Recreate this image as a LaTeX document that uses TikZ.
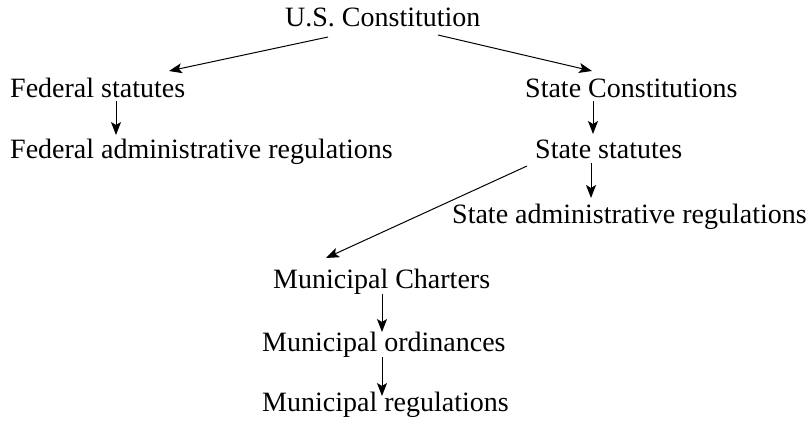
\documentclass[tikz,border=0pt]{standalone}
\usepackage{fontspec}
\setmainfont{Liberation Serif}
\usetikzlibrary{arrows.meta,calc}
\begin{document}
\begin{tikzpicture}[x=1pt,y=-1pt,
  lbl/.style={anchor=base west,inner sep=0pt,font=\fontsize{28}{33}\selectfont},
  arr/.style={-{Stealth[length=13pt,width=10pt,inset=3pt]},line width=1pt}]
\useasboundingbox (0,0) rectangle (808,422);
\node[lbl] (us) at (285,27) {U.S. Constitution};
\node[lbl] (fs) at (10,98) {Federal statutes};
\node[lbl] (sc) at (525,98) {State Constitutions};
\node[lbl] (fa) at (10,159) {Federal administrative regulations};
\node[lbl] (ss) at (535,159) {State statutes};
\node[lbl] (sa) at (452,223) {State administrative regulations};
\node[lbl] (mc) at (273,288) {Municipal Charters};
\node[lbl] (mo) at (262,351) {Municipal ordinances};
\node[lbl] (mr) at (262,411) {Municipal regulations};
\draw[arr] ($(us.base west)+(43,10)$) -- ($(fs.base west)+(159,-27)$);
\draw[arr] ($(us.base west)+(153,8)$) -- ($(sc.base west)+(67,-27)$);
\draw[arr] ($(fs.base west)+(106,3)$) -- ($(fa.base west)+(106,-24)$);
\draw[arr] ($(sc.base west)+(68,3)$) -- ($(ss.base west)+(58,-25)$);
\draw[arr] ($(ss.base west)+(-8,7)$) -- ($(mc.base west)+(53,-30)$);
\draw[arr] ($(ss.base west)+(56,4)$) -- ($(sa.base west)+(139,-25)$);
\draw[arr] ($(mc.base west)+(109,6)$) -- ($(mo.base west)+(120,-19)$);
\draw[arr] ($(mo.base west)+(120,6)$) -- ($(mr.base west)+(120,-15)$);
\end{tikzpicture}
\end{document}
